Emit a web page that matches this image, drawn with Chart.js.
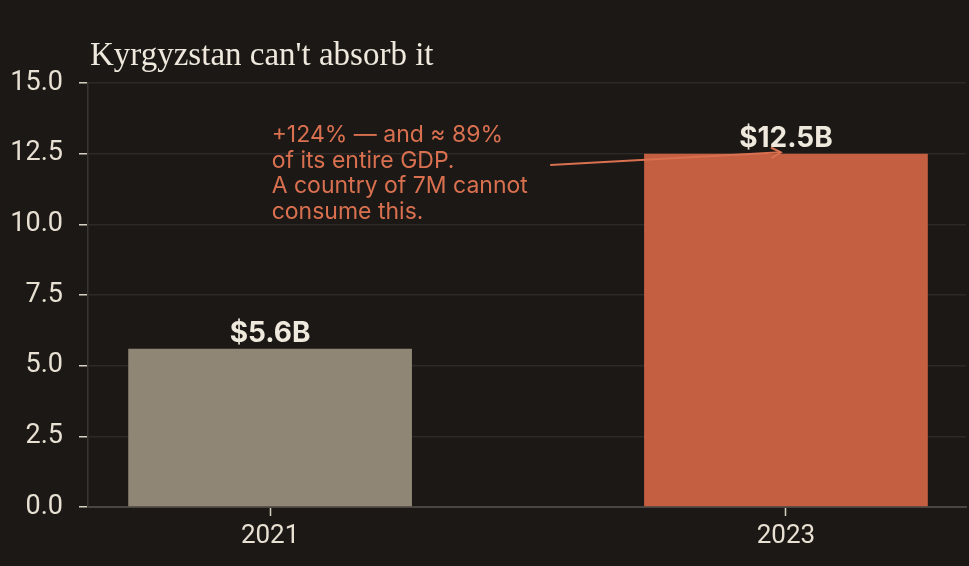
<!DOCTYPE html>
<html>
<head>
<meta charset="utf-8">
<script src="https://cdn.jsdelivr.net/npm/chart.js@4/dist/chart.umd.min.js"></script>
<style>
  html, body { margin: 0; padding: 0; background: #1b1816; }
  #wrap { width: 969px; height: 566px; }
</style>
</head>
<body>
<div id="wrap"><canvas id="c"></canvas></div>
<script>
const categories = ['2021', '2023'];
const values = [5.6, 12.5];
const valueLabels = ['$5.6B', '$12.5B'];
const barColors = ['#8f8676', '#c45f42'];
const yTicks = [0, 2.5, 5, 7.5, 10, 12.5, 15];
const titleText = "Kyrgyzstan can't absorb it";
const noteLines = ['+124% \u2014 and \u2248 89%', 'of its entire GDP.', 'A country of 7M cannot', 'consume this.'];
const noteAnchor = { x: 0.003, y: 12.9 };
const arrowFrom = { x: 0.543, y: 12.1 };
const arrowTo = { x: 0.99, y: 12.55 };

const overlay = {
  id: 'overlay',
  afterDatasetsDraw(chart) {
    const { ctx, chartArea, scales } = chart;
    const xs = scales.x, ys = scales.y;
    ctx.save();
    ctx.fillStyle = '#efe8dc';
    ctx.font = '33px "Liberation Serif", "DejaVu Serif", serif';
    ctx.textAlign = 'left';
    ctx.textBaseline = 'alphabetic';
    ctx.fillText(titleText, chartArea.left + 2, 65);
    ctx.font = 'bold 28px Inter, "Noto Sans", sans-serif';
    ctx.textAlign = 'center';
    ctx.fillStyle = '#efe8dc';
    values.forEach((v, i) => {
      ctx.fillText(valueLabels[i], xs.getPixelForValue(i), ys.getPixelForValue(v) - 7);
    });
    ctx.fillStyle = '#d9704f';
    ctx.font = '23px Inter, "Noto Sans", sans-serif';
    ctx.textAlign = 'left';
    const nx = xs.getPixelForValue(noteAnchor.x), ny = ys.getPixelForValue(noteAnchor.y);
    noteLines.forEach((l, i) => ctx.fillText(l, nx, ny + i * 25.5));
    const x1 = xs.getPixelForValue(arrowFrom.x), y1 = ys.getPixelForValue(arrowFrom.y);
    const x2 = xs.getPixelForValue(arrowTo.x), y2 = ys.getPixelForValue(arrowTo.y);
    ctx.strokeStyle = '#d9704f';
    ctx.lineWidth = 2;
    ctx.beginPath();
    ctx.moveTo(x1, y1);
    ctx.lineTo(x2, y2);
    ctx.stroke();
    const ang = Math.atan2(y2 - y1, x2 - x1);
    ctx.beginPath();
    ctx.moveTo(x2 - 11 * Math.cos(ang - 0.5), y2 - 11 * Math.sin(ang - 0.5));
    ctx.lineTo(x2, y2);
    ctx.lineTo(x2 - 11 * Math.cos(ang + 0.5), y2 - 11 * Math.sin(ang + 0.5));
    ctx.stroke();
    ctx.restore();
  }
};

new Chart(document.getElementById('c'), {
  type: 'bar',
  data: {
    datasets: [{
      data: values.map((v, i) => ({ x: i, y: v })),
      backgroundColor: barColors,
      borderWidth: 0,
      categoryPercentage: 1,
      barPercentage: 0.55
    }]
  },
  options: {
    responsive: true,
    maintainAspectRatio: false,
    animation: false,
    devicePixelRatio: 1,
    layout: { padding: { left: 0, right: 3, top: 83, bottom: 0 } },
    plugins: { legend: { display: false }, tooltip: { enabled: false }, title: { display: false } },
    scales: {
      x: {
        type: 'linear',
        offset: false,
        min: -0.353,
        max: 1.349,
        afterBuildTicks(s) { s.ticks = categories.map((c, i) => ({ value: i })); },
        afterFit(s) { s.height = 59; },
        ticks: {
          callback: (v) => categories[v] ?? '',
          color: '#e8e0d2',
          font: { family: 'Roboto, "Noto Sans", sans-serif', size: 26 },
          padding: 5,
          maxRotation: 0,
          autoSkip: false
        },
        grid: { offset: false, drawOnChartArea: false, drawTicks: true, tickLength: 9, tickColor: '#d8d0c2', tickWidth: 1.5 },
        border: { display: true, color: '#4a4540', width: 2 }
      },
      y: {
        min: 0,
        max: 15,
        afterBuildTicks(s) { s.ticks = yTicks.map(v => ({ value: v })); },
        afterFit(s) { s.width = 88; },
        ticks: {
          callback: (v) => Number(v).toFixed(1),
          color: '#e8e0d2',
          font: { family: 'Roboto, "Noto Sans", sans-serif', size: 27 },
          padding: 16
        },
        grid: { color: '#2d2926', lineWidth: 1.5, drawTicks: true, tickLength: 9, tickColor: '#d8d0c2', tickWidth: 1.5 },
        border: { display: true, color: '#3a3532', width: 1.5 }
      }
    }
  },
  plugins: [overlay]
});
</script>
</body>
</html>
